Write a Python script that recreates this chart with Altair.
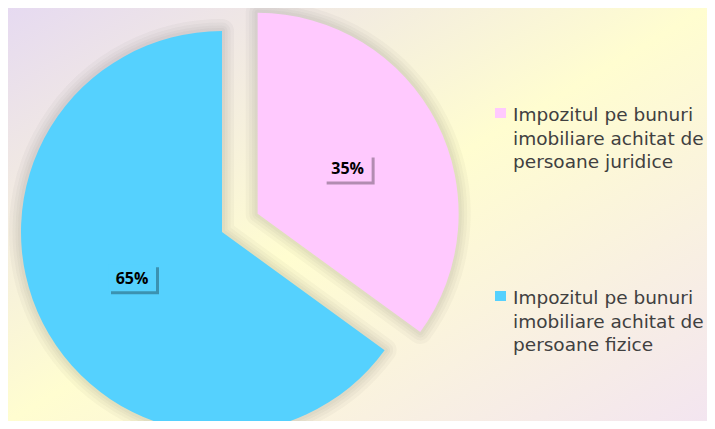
import math
import altair as alt
import pandas as pd

# ---- data -------------------------------------------------------------
categories = [
    "Impozitul pe bunuri imobiliare achitat de persoane juridice",
    "Impozitul pe bunuri imobiliare achitat de persoane fizice",
]
legend_lines = [
    ["Impozitul pe bunuri", "imobiliare achitat de", "persoane juridice"],
    ["Impozitul pe bunuri", "imobiliare achitat de", "persoane fizice"],
]
shares = [35, 65]
labels = ["35%", "65%"]

# ---- style / layout ---------------------------------------------------
colors = ["#ffc9fe", "#55d1fe"]
explode = [40, 0]
W, H = 699, 413
CX, CY = 214, 224
R = 201
LABEL_R = 101
BOX_W, BOX_H = 48, 27
LEG_X = 487
LEG_Y = [105, 288]

rows = []
total = sum(shares)
cum = 0
for i, cat in enumerate(categories):
    start = cum / total
    cum += shares[i]
    end = cum / total
    mid = (start + end) / 2 * 2 * math.pi
    cx = CX + explode[i] * math.sin(mid)
    cy = CY - explode[i] * math.cos(mid)
    lx = cx + LABEL_R * math.sin(mid)
    ly = cy - LABEL_R * math.cos(mid)
    rows.append(dict(
        category=cat, start=start, end=end, cx=cx, cy=cy,
        label=labels[i], lx=lx, ly=ly,
        bx1=lx - BOX_W / 2, bx2=lx + BOX_W / 2,
        by1=ly - BOX_H / 2, by2=ly + BOX_H / 2,
        sx1=lx - BOX_W / 2 + 3, sx2=lx + BOX_W / 2 + 3,
        sy1=ly - BOX_H / 2 + 3, sy2=ly + BOX_H / 2 + 3,
        qx1=LEG_X, qx2=LEG_X + 11, qy1=LEG_Y[i] - 5, qy2=LEG_Y[i] + 5,
        tx=LEG_X + 18, ty=LEG_Y[i] + 8,
        legend="\n".join(legend_lines[i]),
    ))
df = pd.DataFrame(rows)

xs = alt.Scale(domain=[0, W], range=[0, W])
ys = alt.Scale(domain=[0, H], range=[0, H])
ts = alt.Scale(domain=[0, 1], range=[0, 2 * math.pi])
col = alt.Color("category:N", scale=alt.Scale(domain=categories, range=colors), legend=None)

base = alt.Chart(df)

bg = alt.Chart(pd.DataFrame({"a": [0]})).mark_rect(
    fill={
        "gradient": "linear", "x1": 0, "y1": 0, "x2": 1, "y2": 1,
        "stops": [
            {"offset": 0, "color": "#e6daf1"},
            {"offset": 0.5, "color": "#fffdd0"},
            {"offset": 1, "color": "#f3e5f0"},
        ],
    }
).encode(x=alt.value(0), x2=alt.value(W), y=alt.value(0), y2=alt.value(H))

arc_enc = dict(
    x=alt.X("cx:Q", scale=xs, axis=None),
    y=alt.Y("cy:Q", scale=ys, axis=None),
    theta=alt.Theta("start:Q", scale=ts),
    theta2=alt.Theta2("end:Q"),
)

shadows = [
    base.mark_arc(outerRadius=R, fillOpacity=0, stroke="#4a4050", strokeWidth=w,
                  strokeOpacity=0.04, strokeJoin="round").encode(**arc_enc)
    for w in [24, 17, 11, 6]
]

slices = base.mark_arc(outerRadius=R).encode(color=col, **arc_enc)

box_shadow = base.mark_rect(color="#000000", opacity=0.3).encode(
    x=alt.X("sx1:Q", scale=xs, axis=None), x2="sx2:Q",
    y=alt.Y("sy1:Q", scale=ys, axis=None), y2="sy2:Q",
)
boxes = base.mark_rect().encode(
    x=alt.X("bx1:Q", scale=xs, axis=None), x2="bx2:Q",
    y=alt.Y("by1:Q", scale=ys, axis=None), y2="by2:Q",
    color=col,
)
label_text = base.mark_text(font="Open Sans", fontWeight="bold", fontSize=16,
                            color="#000000", baseline="middle", align="center", dy=1).encode(
    x=alt.X("lx:Q", scale=xs, axis=None),
    y=alt.Y("ly:Q", scale=ys, axis=None),
    text="label:N",
)

leg_sq = base.mark_rect().encode(
    x=alt.X("qx1:Q", scale=xs, axis=None), x2="qx2:Q",
    y=alt.Y("qy1:Q", scale=ys, axis=None), y2="qy2:Q",
    color=col,
)
leg_text = base.mark_text(font="DejaVu Sans", fontSize=18.5, color="#404040",
                          align="left", baseline="alphabetic", lineBreak="\n",
                          lineHeight=23.5).encode(
    x=alt.X("tx:Q", scale=xs, axis=None),
    y=alt.Y("ty:Q", scale=ys, axis=None),
    text="legend:N",
)

chart = alt.layer(
    bg, *shadows, slices, box_shadow, boxes, label_text, leg_sq, leg_text
).properties(
    width=W, height=H, padding=0,
    autosize=alt.AutoSizeParams(type="none"),
).configure_view(stroke=None)

chart.save("out.html", embed_options={"renderer": "svg", "actions": False})
